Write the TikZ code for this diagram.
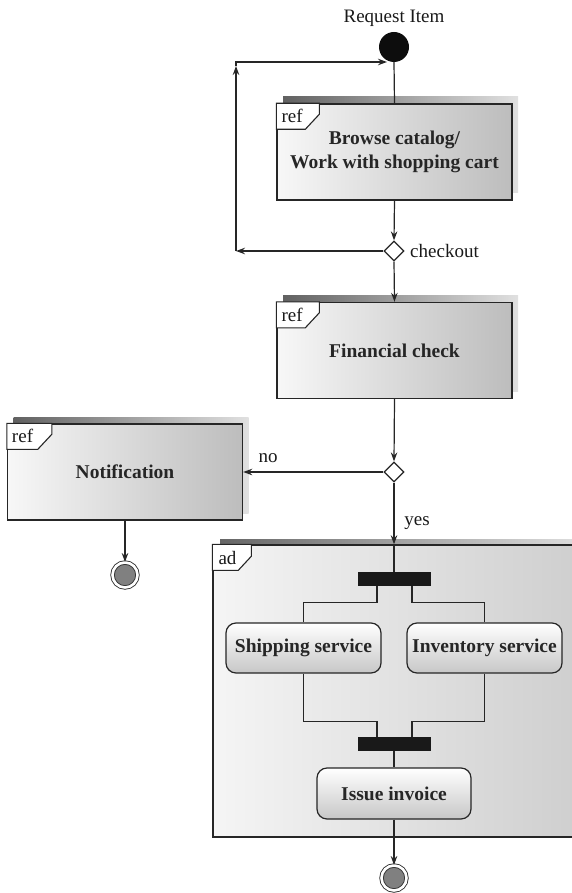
\documentclass[tikz,border=0pt]{standalone}
\usepackage{fontspec}
\setmainfont{Liberation Serif}
\usetikzlibrary{shapes.geometric,arrows.meta,shadows,calc}
\begin{document}
\begin{tikzpicture}[x=1pt,y=-1pt,
  >={Stealth[length=9pt,width=6.5pt]},
  lbl/.style={font=\fontsize{19}{21}\selectfont, inner sep=0pt, text=black!90},
  conn/.style={draw=black!85, line width=1.2pt},
  refbox/.style={draw=black!85, line width=1.4pt, left color=black!3, right color=black!26,
    minimum width=235pt, minimum height=96pt, inner sep=0pt,
    font=\fontsize{19.5}{24}\selectfont\bfseries, text=black!85, align=center,
    general shadow={shadow xshift=6pt, shadow yshift=7pt, left color=black!62, right color=black!12}},
  framebox/.style={draw=black!85, line width=1.4pt, left color=black!4, right color=black!19,
    inner sep=0pt,
    general shadow={shadow xshift=7pt, shadow yshift=6pt, left color=black!60, right color=black!12}},
  tag/.style={draw=black!85, line width=1.1pt, fill=white},
  dia/.style={diamond, draw=black!85, fill=white, line width=1.2pt, inner sep=0pt, minimum size=20pt},
  initnode/.style={circle, fill=black!95, minimum size=30pt, inner sep=0pt},
  finalnode/.style={circle, fill=black!50, draw=black!80, line width=0.9pt, double=white, double distance=2.6pt, minimum size=25pt, inner sep=0pt},
  bar/.style={fill=black!90, minimum width=73pt, minimum height=14pt, inner sep=0pt},
  act/.style={draw=black!85, line width=1.2pt, rounded corners=10pt, top color=white, bottom color=black!22,
    minimum width=155pt, minimum height=50pt, inner sep=0pt,
    font=\fontsize{19.5}{24}\selectfont\bfseries, text=black!85}
]
\useasboundingbox (0,0) rectangle (572,893);
\clip (0,0) rectangle (572,893);

% ---- top part
\node[lbl] (req) at (394,18) {Request Item};
\node[initnode] (init) at (394,47) {};

\node[refbox] (browse) at (394.5,152) {Browse catalog/\\Work with shopping cart};
\draw[tag] (browse.north west) -- ++(43,0) -- ++(0,11) -- ++(-14,15) -- ++(-29,0) -- cycle;
\node[lbl, anchor=west] (browseref) at ($(browse.north west)+(5,13)$) {ref};

\node[dia] (d1) at (394,251) {};
\node[lbl, anchor=west] (chk) at (410,251) {checkout};

\node[refbox] (fin) at (394.5,350.5) {Financial check};
\draw[tag] (fin.north west) -- ++(43,0) -- ++(0,11) -- ++(-14,15) -- ++(-29,0) -- cycle;
\node[lbl, anchor=west] (finref) at ($(fin.north west)+(5,13)$) {ref};

\node[dia] (d2) at (394,472) {};
\node[lbl] (no) at (268,458) {no};

\node[refbox] (notif) at (125,472) {Notification};
\draw[tag] (notif.north west) -- ++(45,0) -- ++(0,11) -- ++(-14,15) -- ++(-31,0) -- cycle;
\node[lbl, anchor=west] (notifref) at ($(notif.north west)+(5,13)$) {ref};

\node[finalnode] (final1) at (125,575) {};
\node[lbl] (yes) at (417,523) {yes};

% ---- ad frame
\node[framebox, minimum width=366pt, minimum height=292pt] (ad) at (396,691) {};
\draw[tag] (ad.north west) -- ++(39,0) -- ++(0,12) -- ++(-13,14) -- ++(-26,0) -- cycle;
\node[lbl, anchor=west] (adref) at ($(ad.north west)+(6,13.5)$) {ad};

\node[bar] (fork) at (394,579) {};
\node[act] (ship) at (303.5,648) {Shipping service};
\node[act] (inv) at (484.5,648) {Inventory service};
\node[bar] (join) at (394,744) {};
\node[act, minimum width=154pt, minimum height=51pt] (invoice) at (394,793.5) {Issue invoice};
\node[finalnode] (final2) at (394,878) {};

% ---- connectors
\coordinate (lb) at (236,251);
\coordinate (lup) at (236,66);
\coordinate (lt) at (236,62);
\coordinate (lin) at (387,62);
\draw[conn] (init.south) -- (browse.north);
\draw[conn,->] (browse.south) -- (d1.north);
\draw[conn,->] (d1.west) -- (lb);
\draw[conn,->] (lb) -- (lup);
\draw[conn,->] (lup) -- (lt) -- (lin);
\draw[conn,->] (d1.south) -- (fin.north);
\draw[conn,->] (fin.south) -- (d2.north);
\draw[conn,->] (d2.west) -- (d2.west -| notif.east);
\draw[conn,->] (notif.south) -- (final1.north);
\coordinate (adtop) at (d2.south |- ad.north);
\draw[conn,->] (d2.south) -- (adtop);
\draw[conn] (adtop) -- (fork.north);
\draw[conn] ([xshift=-17pt]fork.south) -- ++(0,16) -| (ship.north);
\draw[conn] ([xshift=18pt]fork.south) -- ++(0,16) -| (inv.north);
\draw[conn] (ship.south) -- ++(0,48) -| ([xshift=-17pt]join.north);
\draw[conn] (inv.south) -- ++(0,48) -| ([xshift=18pt]join.north);
\draw[conn] (join.south) -- (invoice.north);
\draw[conn,->] (invoice.south) -- (final2.north);
\end{tikzpicture}
\end{document}
